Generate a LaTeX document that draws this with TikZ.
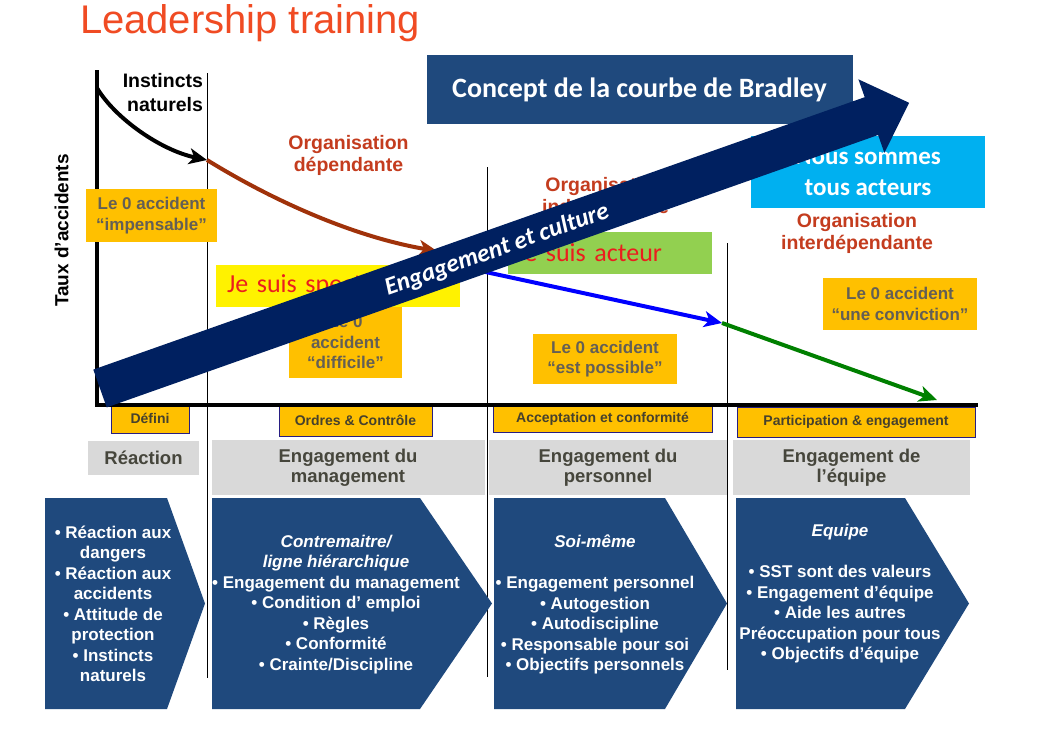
\documentclass[tikz,border=0pt]{standalone}
\usepackage{fontspec}
\setmainfont{Liberation Sans}
\newfontfamily\calibri{Carlito}
\usetikzlibrary{arrows.meta}
\definecolor{titlered}{RGB}{240,75,35}
\definecolor{navyarrow}{RGB}{0,32,96}
\definecolor{slateblue}{RGB}{31,73,125}
\definecolor{boxorange}{RGB}{255,192,0}
\definecolor{lbltext}{RGB}{100,95,85}
\definecolor{orgred}{RGB}{196,60,30}
\definecolor{brownarrow}{RGB}{160,50,10}
\definecolor{cyanbox}{RGB}{0,176,240}
\definecolor{greenbox}{RGB}{146,208,80}
\definecolor{graybox}{RGB}{217,217,217}
\definecolor{graytext}{RGB}{70,70,60}
\definecolor{stagetext}{RGB}{70,65,45}
\definecolor{lblborder}{RGB}{40,30,130}
\definecolor{jered}{RGB}{235,30,30}
\definecolor{darkgreen}{RGB}{0,128,0}
\newcommand{\fs}[2]{\fontsize{#1}{#2}\selectfont}
\begin{document}
\begin{tikzpicture}[x=1pt,y=-1pt,
  every node/.style={inner sep=0pt, outer sep=0pt},
  zerobox/.style={fill=boxorange, text=lbltext, align=center, font=\bfseries\fs{17}{20.5}},
  orgtext/.style={text=orgred, align=center, font=\bfseries\fs{19.5}{22}},
  stagebox/.style={fill=boxorange, draw=lblborder, line width=0.8pt, text=stagetext, font=\bfseries\fs{14}{16}},
  graylbl/.style={fill=graybox, text=graytext, align=center, font=\bfseries\fs{18.5}{20.5}},
  chevshape/.style={fill=slateblue},
  chevtext/.style={text=white, align=center, font=\bfseries\fs{17}{20.5}},
  curve/.style={line width=4pt, -{Stealth[length=18pt,width=16pt,inset=5pt]}},
  divider/.style={line width=1pt, black},
  saybox/.style={font=\calibri\fs{26}{30}, text=jered, align=left},
]
\useasboundingbox (0,0) rectangle (1039,734);
\fill[white] (0,0) rectangle (1039,734);

% title
\node[anchor=base west, text=titlered, font=\fs{40}{41}] (title) at (80,33) {Leadership training};

% dividers
\coordinate (d1t) at (207,73);  \coordinate (d1b) at (207,678);
\coordinate (d2t) at (487,167); \coordinate (d2b) at (487,677);
\coordinate (d3t) at (727,243); \coordinate (d3b) at (727,670);
\draw[divider] (d1t) -- (d1b);
\draw[divider] (d2t) -- (d2b);
\draw[divider] (d3t) -- (d3b);

% labels of stages
\node[stagebox, minimum width=78, minimum height=29] (defini) at (150,418.5) {Défini};
\node[stagebox, minimum width=153, minimum height=32] (ordres) at (355.5,420) {Ordres \& Contrôle};
\node[stagebox, minimum width=219, minimum height=27] (accept) at (602.5,418.5) {Acceptation et conformité};
\node[stagebox, minimum width=238, minimum height=30] (partic) at (856,422) {Participation \& engagement};

% axes
\coordinate (ytop) at (97,70);
\coordinate (origin) at (97,405);
\coordinate (xend) at (978,405);
\draw[line width=4pt] (ytop) -- (origin) -- (xend);

\node[rotate=90, font=\bfseries\fs{19}{20}] (taux) at (61.5,230.5) {Taux d’accidents};

% texts in chart
\node[anchor=east, align=right, font=\bfseries\fs{19.5}{24}] (instincts) at (203,93) {Instincts\\naturels};
\node[orgtext] (orgdep) at (348.5,155) {Organisation\\dépendante};
\node[orgtext] (orgind) at (605.5,197) {Organisation\\indépendante};
\node[orgtext] (orginter) at (857,233) {Organisation\\interdépendante};

% curve points
\coordinate (p0) at (97,88);
\coordinate (p1) at (207,160);
\coordinate (p2) at (437,251);
\coordinate (p3) at (481,271);
\coordinate (p4) at (722,323);
\coordinate (p5) at (937,400);
\draw[curve, black] (p0) .. controls (115,118) and (160,150) .. (p1);
\draw[curve, brownarrow] (p1) .. controls (280,205) and (360,238) .. (p2);
\draw[curve, blue] (p3) -- (p4);
\draw[curve, darkgreen] (p4) -- (p5);

% boxes
\node[zerobox, minimum width=131, minimum height=53] (imp) at (151.5,215.5) {Le 0 accident\\“impensable”};
\node[saybox, fill=yellow, minimum width=244, minimum height=42, text width=222, inner xsep=11pt] (spect) at (338,286) {Je suis spectateur};
\node[zerobox, minimum width=113, minimum height=71] (diff) at (345.5,342.5) {Le 0\\accident\\“difficile”};
\node[saybox, fill=greenbox, minimum width=204, minimum height=42, text width=188, inner xsep=8pt] (acteur) at (610,253) {Je suis acteur};
\node[zerobox, minimum width=144, minimum height=50] (poss) at (605,359) {Le 0 accident\\“est possible”};
\node[zerobox, minimum width=154, minimum height=52] (conv) at (900,304) {Le 0 accident\\“une conviction”};
\node[fill=cyanbox, text=white, align=center, minimum width=234, minimum height=72, font=\calibri\bfseries\fs{25}{31}] (nous) at (868,172) {Nous sommes\\tous acteurs};
\node[fill=slateblue, text=white, minimum width=426, minimum height=69, font=\calibri\bfseries\fs{28}{30}] (concept) at (639.5,89.5) {Concept de la courbe de Bradley};

% grey stage boxes
\node[graylbl, minimum width=111, minimum height=34] (reaction) at (143.5,458) {Réaction};
\node[graylbl, minimum width=273, minimum height=55] (engman) at (348,467.5) {Engagement du\\management};
\node[graylbl, minimum width=238, minimum height=55] (engpers) at (608,467.5) {Engagement du\\personnel};
\node[graylbl, minimum width=237, minimum height=55] (engeq) at (851.5,467.5) {Engagement de\\l’équipe};

% chevrons
\fill[chevshape] (45,498) -- (167,498) -- (205,603.5) -- (167,709) -- (45,709) -- cycle;
\fill[chevshape] (212,498) -- (420,498) -- (492,603.5) -- (420,709) -- (212,709) -- cycle;
\fill[chevshape] (494,498) -- (665,498) -- (727,603.5) -- (665,709) -- (494,709) -- cycle;
\fill[chevshape] (736,498) -- (905,498) -- (969,603.5) -- (905,709) -- (736,709) -- cycle;

\node[chevtext] (c1) at (113,604) {• Réaction aux\\dangers\\• Réaction aux\\accidents\\• Attitude de\\protection\\• Instincts\\naturels};
\node[chevtext] (c2) at (336,604.5) {{\itshape Contremaitre/}\\{\itshape ligne hiérarchique}\\• Engagement du management\\• Condition d’ emploi\\• Règles\\• Conformité\\• Crainte/Discipline};
\node[chevtext] (c3) at (595,604.5) {{\itshape Soi-même}\\[20.5pt]• Engagement personnel\\• Autogestion\\• Autodiscipline\\• Responsable pour soi\\• Objectifs personnels};
\node[chevtext] (c4) at (840,594) {{\itshape Equipe}\\[20.5pt]• SST sont des valeurs\\• Engagement d’équipe\\• Aide les autres\\Préoccupation pour tous\\• Objectifs d’équipe};

% big arrow
\fill[navyarrow] (93.3,369.6) -- (864.7,97.2) -- (858.4,79.3) -- (909.1,102.8) -- (884.4,152.9) -- (878.1,135) -- (106.7,407.4) -- cycle;
\node[rotate=19.44, text=white, font=\calibri\bfseries\itshape\fs{25}{25}] (engtxt) at (497,250) {Engagement et culture};
\end{tikzpicture}
\end{document}
